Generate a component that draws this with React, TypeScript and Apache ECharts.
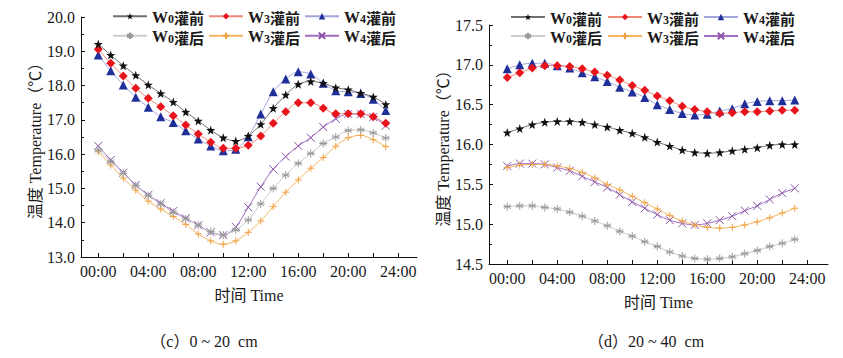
import React, { useEffect, useRef } from "react";
import * as echarts from "echarts";

const HOURS = [0, 1, 2, 3, 4, 5, 6, 7, 8, 9, 10, 11, 12, 13, 14, 15, 16, 17, 18, 19, 20, 21, 22, 23];
const SERIES_NAMES = ["W0灌前", "W3灌前", "W4灌前", "W0灌后", "W3灌后", "W4灌后"];
const X_TICKS = [0, 2, 4, 6, 8, 10, 12, 14, 16, 18, 20, 22, 24];
const X_LABELS = [0, 4, 8, 12, 16, 20, 24];
const CAPTIONS = ["（c）0 ~ 20  cm", "（d）20 ~ 40  cm"];
const Y_NAME = "温度 Temperature（℃）";
const X_NAME = "时间 Time";

// (c) 0~20 cm
const L_W0_BEFORE = [19.21, 18.89, 18.58, 18.3, 18.02, 17.77, 17.52, 17.23, 16.97, 16.7, 16.48, 16.38, 16.53, 16.87, 17.34, 17.73, 18.04, 18.12, 18.07, 17.94, 17.88, 17.78, 17.67, 17.45];
const L_W3_BEFORE = [19.06, 18.65, 18.28, 17.92, 17.63, 17.38, 17.12, 16.85, 16.59, 16.35, 16.17, 16.17, 16.26, 16.53, 16.9, 17.24, 17.5, 17.5, 17.34, 17.18, 17.18, 17.18, 17.09, 16.9];
const L_W4_BEFORE = [18.89, 18.43, 18.02, 17.66, 17.37, 17.09, 16.92, 16.68, 16.44, 16.24, 16.1, 16.14, 16.51, 17.17, 17.82, 18.19, 18.4, 18.34, 18.07, 17.85, 17.82, 17.77, 17.6, 17.27];
const L_W0_AFTER = [16.12, 15.78, 15.44, 15.08, 14.79, 14.54, 14.3, 14.11, 13.93, 13.74, 13.64, 13.79, 14.08, 14.55, 15.0, 15.39, 15.73, 16.02, 16.31, 16.5, 16.69, 16.71, 16.62, 16.47];
const L_W3_AFTER = [16.07, 15.68, 15.3, 14.95, 14.63, 14.4, 14.18, 13.95, 13.67, 13.47, 13.37, 13.47, 13.72, 14.05, 14.47, 14.89, 15.25, 15.59, 15.9, 16.23, 16.48, 16.55, 16.42, 16.22];
const L_W4_AFTER = [16.24, 15.83, 15.46, 15.1, 14.81, 14.57, 14.34, 14.13, 13.93, 13.72, 13.64, 13.88, 14.45, 15.05, 15.56, 15.93, 16.24, 16.48, 16.79, 17.03, 17.17, 17.17, 17.08, 16.83];

// (d) 20~40 cm
const R_W0_BEFORE = [16.15, 16.2, 16.25, 16.28, 16.29, 16.29, 16.28, 16.25, 16.22, 16.18, 16.14, 16.09, 16.03, 15.98, 15.93, 15.9, 15.89, 15.9, 15.92, 15.94, 15.96, 15.99, 16.0, 16.0];
const R_W3_BEFORE = [16.84, 16.9, 16.96, 16.99, 16.99, 16.98, 16.95, 16.91, 16.87, 16.81, 16.74, 16.68, 16.61, 16.55, 16.48, 16.44, 16.41, 16.39, 16.4, 16.41, 16.41, 16.42, 16.43, 16.43];
const R_W4_BEFORE = [16.95, 17.0, 17.02, 17.02, 16.99, 16.96, 16.9, 16.85, 16.79, 16.72, 16.66, 16.59, 16.5, 16.44, 16.39, 16.37, 16.38, 16.42, 16.45, 16.51, 16.54, 16.55, 16.55, 16.56];
const R_W0_AFTER = [15.22, 15.23, 15.23, 15.21, 15.19, 15.15, 15.1, 15.04, 14.98, 14.91, 14.85, 14.78, 14.72, 14.65, 14.6, 14.57, 14.56, 14.57, 14.59, 14.63, 14.67, 14.72, 14.76, 14.81];
const R_W3_AFTER = [15.71, 15.74, 15.75, 15.75, 15.73, 15.7, 15.65, 15.58, 15.5, 15.43, 15.35, 15.27, 15.19, 15.11, 15.04, 14.99, 14.96, 14.95, 14.96, 14.99, 15.03, 15.08, 15.14, 15.2];
const R_W4_AFTER = [15.73, 15.76, 15.76, 15.75, 15.71, 15.67, 15.6, 15.53, 15.46, 15.37, 15.28, 15.2, 15.12, 15.05, 15.01, 14.99, 15.01, 15.05, 15.1, 15.17, 15.23, 15.31, 15.39, 15.45];

const LEFT_DATA = [L_W0_BEFORE, L_W3_BEFORE, L_W4_BEFORE, L_W0_AFTER, L_W3_AFTER, L_W4_AFTER];
const RIGHT_DATA = [R_W0_BEFORE, R_W3_BEFORE, R_W4_BEFORE, R_W0_AFTER, R_W3_AFTER, R_W4_AFTER];

const STAR = "path://M0,-10L2.35,-3.24L9.51,-3.09L3.8,1.24L5.88,8.09L0,4L-5.88,8.09L-3.8,1.24L-9.51,-3.09L-2.35,-3.24Z";
const ASTER = "path://M0,-5L0,5M-4.33,-2.5L4.33,2.5M-4.33,2.5L4.33,-2.5M-5,0L5,0";
const PLUS = "path://M0,-5L0,5M-5,0L5,0";
const CROSS = "path://M-5,-5L5,5M-5,5L5,-5";

const STYLES = [
  { symbol: STAR, size: 9, line: "#707070", fill: "#111111", stroke: null },
  { symbol: "diamond", size: 9, line: "#ef8a78", fill: "#e8141c", stroke: null },
  { symbol: "triangle", size: 9, line: "#a3a6dc", fill: "#1f2f9a", stroke: null },
  { symbol: ASTER, size: 8, line: "#cccccc", fill: "transparent", stroke: "#9a9a9a" },
  { symbol: PLUS, size: 7, line: "#f5b560", fill: "transparent", stroke: "#f0a040" },
  { symbol: CROSS, size: 8, line: "#a06ec0", fill: "transparent", stroke: "#8a54a8" },
];

const SERIF = "'Liberation Serif', 'Times New Roman', 'Noto Sans CJK SC', serif";
const CJK = "'Noto Sans CJK SC', sans-serif";

function pad(v: number) {
  return (v < 10 ? "0" : "") + v + ":00";
}

export default function App() {
  const ref = useRef<HTMLDivElement>(null);
  useEffect(() => {
    if (!ref.current) return;
    const chart = echarts.init(ref.current, null, { renderer: "svg" });

    const grids = [
      { left: 81, top: 17, width: 336, height: 240 },
      { left: 489, top: 25, width: 339, height: 239 },
    ];
    const xRanges = [
      [-1.38, 25.5],
      [-1.46, 25.66],
    ];
    const yRanges = [
      [13, 20, 1],
      [14.5, 17.5, 0.5],
    ];

    const xAxis = [0, 1].map((i) => ({
      type: "value",
      gridIndex: i,
      min: xRanges[i][0],
      max: xRanges[i][1],
      name: X_NAME,
      nameLocation: "middle",
      nameGap: 30,
      nameTextStyle: { fontFamily: SERIF, fontSize: 16, color: "#1a1a1a" },
      axisLine: { show: true, onZero: false, lineStyle: { color: "#111", width: 1 } },
      axisTick: { show: true, inside: true, length: 4, customValues: X_TICKS, lineStyle: { color: "#111" } },
      axisLabel: {
        customValues: X_LABELS,
        formatter: (v: number) => pad(v),
        fontFamily: SERIF,
        fontSize: 16,
        color: "#1a1a1a",
        margin: 6,
      },
      splitLine: { show: false },
    }));

    const yAxis = [0, 1].map((i) => ({
      type: "value",
      gridIndex: i,
      min: yRanges[i][0],
      max: yRanges[i][1],
      interval: yRanges[i][2],
      name: Y_NAME,
      nameLocation: "middle",
      nameGap: 36,
      nameTextStyle: { fontFamily: SERIF, fontSize: 16, color: "#1a1a1a" },
      axisLine: { show: true, onZero: false, lineStyle: { color: "#111", width: 1 } },
      axisTick: { show: true, inside: true, length: 4, lineStyle: { color: "#111" } },
      minorTick: { show: true, splitNumber: 2, length: 3, lineStyle: { color: "#111" } },
      axisLabel: {
        formatter: (v: number) => v.toFixed(1),
        fontFamily: SERIF,
        fontSize: 16,
        color: "#1a1a1a",
        margin: 6,
      },
      splitLine: { show: false },
    }));

    const series: any[] = [];
    [LEFT_DATA, RIGHT_DATA].forEach((group, gi) => {
      group.forEach((vals, si) => {
        const st = STYLES[si];
        series.push({
          type: "line",
          name: SERIES_NAMES[si],
          xAxisIndex: gi,
          yAxisIndex: gi,
          data: HOURS.map((h, k) => [h, vals[k]]),
          smooth: 0.3,
          symbol: st.symbol,
          symbolSize: st.size,
          showSymbol: true,
          lineStyle: { color: st.line, width: 1 },
          itemStyle: st.stroke
            ? { color: st.fill, borderColor: st.stroke, borderWidth: 1 }
            : { color: st.fill },
          z: 10 - si,
        });
      });
    });

    const legendPos = [
      { xs: [112, 208, 304], ys: [18.3, 37.7] },
      { xs: [510, 607, 703], ys: [19, 38] },
    ];
    const legend: any[] = [];
    legendPos.forEach((p) => {
      SERIES_NAMES.forEach((n, si) => {
        const row = si < 3 ? 0 : 1;
        const col = si % 3;
        legend.push({
          data: [n],
          left: p.xs[col],
          top: p.ys[row] - 9,
          padding: 0,
          itemWidth: 34,
          itemHeight: 8,
          selectedMode: false,
          formatter: (name: string) => `{w|W}{n|${name.charAt(1)}}{c|${name.slice(2)}}`,
          textStyle: {
            color: "#1a1a1a",
            rich: {
              w: { fontFamily: SERIF, fontSize: 16, fontWeight: "bold", color: "#1a1a1a", verticalAlign: "bottom", lineHeight: 18 },
              n: { fontFamily: SERIF, fontSize: 12, fontWeight: "bold", color: "#1a1a1a", verticalAlign: "bottom", lineHeight: 16 },
              c: { fontFamily: CJK, fontSize: 15, fontWeight: "bold", color: "#1a1a1a", verticalAlign: "bottom", lineHeight: 18 },
            },
          },
        });
      });
    });

    chart.setOption({
      animation: false,
      backgroundColor: "#ffffff",
      grid: grids,
      xAxis,
      yAxis,
      legend,
      series,
      graphic: [
        {
          type: "text",
          x: 204,
          y: 341,
          style: { text: CAPTIONS[0], fontFamily: SERIF, fontSize: 16, fill: "#1a1a1a", textAlign: "center", textVerticalAlign: "middle" },
        },
        {
          type: "text",
          x: 646,
          y: 341,
          style: { text: CAPTIONS[1], fontFamily: SERIF, fontSize: 16, fill: "#1a1a1a", textAlign: "center", textVerticalAlign: "middle" },
        },
      ],
    });
    return () => chart.dispose();
  }, []);
  return <div ref={ref} style={{ position: "fixed", left: 0, top: 0, width: 843, height: 358 }} />;
}
